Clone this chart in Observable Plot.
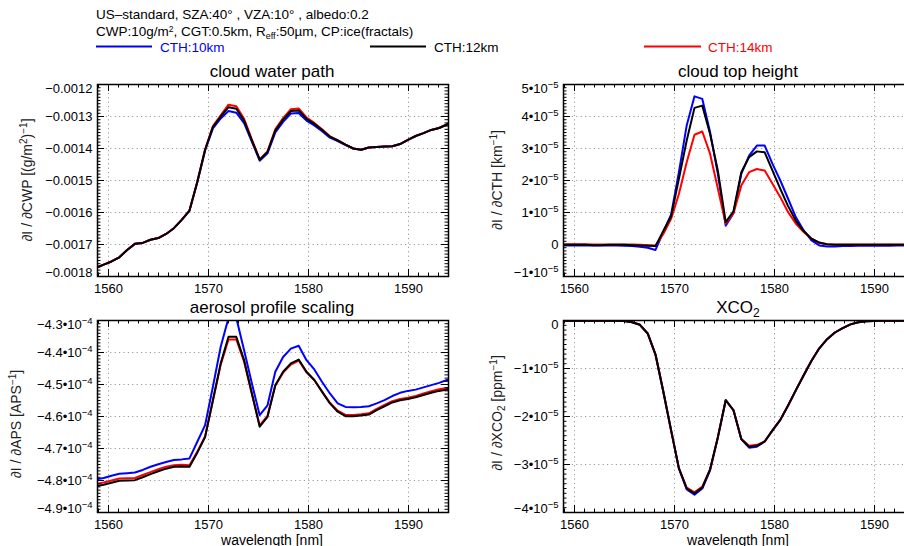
<!DOCTYPE html>
<html>
<head>
<meta charset="utf-8">
<script src="https://cdn.jsdelivr.net/npm/d3@7"></script>
<script src="https://cdn.jsdelivr.net/npm/@observablehq/plot@0.6"></script>
<style>
html,body{margin:0;padding:0;background:#fff;overflow:hidden;}
#root{position:relative;width:904px;height:546px;overflow:hidden;background:#fff;}
#root svg{position:absolute;}
</style>
</head>
<body>
<div id="root"></div>
<script>
// ---------------- data ----------------
const wavelength = [1558.74,1559.52,1560.30,1561.08,1561.86,1562.64,1563.42,1564.20,1564.98,1565.76,1566.54,1567.32,1568.10,1568.88,1569.66,1570.44,1571.22,1572.00,1572.78,1573.56,1574.34,1575.12,1575.90,1576.68,1577.46,1578.24,1579.02,1579.80,1580.58,1581.36,1582.14,1582.92,1583.70,1584.48,1585.26,1586.04,1586.82,1587.60,1588.38,1589.16,1589.94,1590.72,1591.50,1592.28,1593.06,1593.84,1594.62];

const seriesNames = ["CTH:10km", "CTH:12km", "CTH:14km"];
const seriesColors = ["#0000ff", "#000000", "#ff0000"];

// dI/dCWP in units of 1e-3 (g/m^2)^-1
const cwp10 = [-1.773,-1.763,-1.753,-1.740,-1.717,-1.698,-1.695,-1.685,-1.680,-1.667,-1.649,-1.623,-1.594,-1.505,-1.406,-1.337,-1.306,-1.283,-1.288,-1.321,-1.379,-1.438,-1.415,-1.350,-1.317,-1.291,-1.289,-1.313,-1.328,-1.346,-1.366,-1.377,-1.389,-1.400,-1.404,-1.397,-1.395,-1.394,-1.393,-1.386,-1.373,-1.361,-1.352,-1.342,-1.336,-1.325,-1.312];
const cwp12 = [-1.773,-1.763,-1.753,-1.740,-1.717,-1.698,-1.695,-1.685,-1.680,-1.667,-1.649,-1.623,-1.594,-1.505,-1.404,-1.333,-1.300,-1.271,-1.276,-1.313,-1.375,-1.435,-1.411,-1.344,-1.310,-1.283,-1.281,-1.307,-1.323,-1.342,-1.363,-1.375,-1.388,-1.400,-1.404,-1.397,-1.395,-1.394,-1.393,-1.386,-1.373,-1.361,-1.352,-1.342,-1.336,-1.325,-1.312];
const cwp14 = [-1.773,-1.763,-1.753,-1.740,-1.717,-1.698,-1.695,-1.685,-1.680,-1.667,-1.649,-1.623,-1.594,-1.505,-1.403,-1.330,-1.296,-1.263,-1.268,-1.307,-1.372,-1.434,-1.409,-1.340,-1.305,-1.277,-1.275,-1.303,-1.320,-1.340,-1.362,-1.374,-1.388,-1.400,-1.404,-1.397,-1.395,-1.394,-1.393,-1.386,-1.373,-1.361,-1.352,-1.342,-1.336,-1.325,-1.312];

// dI/dCTH in units of 1e-5 km^-1
const cth10 = [-0.03,-0.03,-0.03,-0.03,-0.03,-0.03,-0.03,-0.03,-0.04,-0.05,-0.07,-0.10,-0.17,0.39,0.93,2.26,3.72,4.63,4.55,3.51,2.20,0.59,0.98,2.21,2.78,3.09,3.09,2.52,2.00,1.43,0.85,0.44,0.13,-0.03,-0.06,-0.06,-0.05,-0.05,-0.04,-0.04,-0.04,-0.04,-0.04,-0.03,-0.03,-0.03,-0.03];
const cth12 = [-0.01,-0.01,-0.01,-0.01,-0.02,-0.02,-0.01,-0.01,-0.01,-0.02,-0.03,-0.04,-0.05,0.42,0.88,2.05,3.25,4.27,4.34,3.45,2.30,0.70,1.04,2.26,2.73,2.91,2.88,2.31,1.74,1.20,0.74,0.42,0.18,0.06,0.01,-0.01,-0.01,-0.01,-0.01,-0.01,-0.01,-0.01,-0.01,-0.01,-0.01,-0.01,-0.01];
const cth14 = [0.01,0.01,0.01,0.01,0.00,0.00,0.00,0.00,0.00,0.00,-0.01,-0.02,-0.03,0.33,0.80,1.58,2.57,3.43,3.53,2.83,1.74,0.65,0.98,1.84,2.26,2.36,2.31,1.90,1.48,1.01,0.65,0.39,0.18,0.05,0.01,0,0,0,0,0,0,0,0,0,0,0,0];

// dI/dAPS in units of 1e-4 APS^-1
const aps10 = [-4.797,-4.792,-4.785,-4.779,-4.777,-4.775,-4.767,-4.757,-4.749,-4.742,-4.736,-4.734,-4.731,-4.679,-4.627,-4.507,-4.382,-4.292,-4.292,-4.393,-4.497,-4.596,-4.565,-4.460,-4.414,-4.388,-4.379,-4.424,-4.453,-4.492,-4.528,-4.559,-4.570,-4.571,-4.570,-4.568,-4.559,-4.549,-4.536,-4.526,-4.520,-4.516,-4.509,-4.502,-4.495,-4.486,-4.484];
const aps12 = [-4.818,-4.813,-4.807,-4.801,-4.800,-4.799,-4.790,-4.780,-4.771,-4.763,-4.757,-4.756,-4.757,-4.713,-4.664,-4.549,-4.434,-4.351,-4.351,-4.424,-4.528,-4.632,-4.601,-4.502,-4.460,-4.434,-4.422,-4.460,-4.486,-4.523,-4.559,-4.585,-4.599,-4.599,-4.597,-4.594,-4.580,-4.568,-4.556,-4.549,-4.545,-4.540,-4.533,-4.526,-4.520,-4.516,-4.514];
const aps14 = [-4.811,-4.806,-4.800,-4.794,-4.793,-4.792,-4.783,-4.774,-4.765,-4.757,-4.752,-4.751,-4.752,-4.710,-4.662,-4.551,-4.438,-4.359,-4.359,-4.429,-4.530,-4.628,-4.598,-4.504,-4.463,-4.438,-4.425,-4.462,-4.486,-4.522,-4.557,-4.582,-4.595,-4.595,-4.593,-4.590,-4.576,-4.564,-4.552,-4.545,-4.541,-4.536,-4.528,-4.521,-4.515,-4.511,-4.509];

// dI/dXCO2 in units of 1e-5 ppm^-1
const xco10 = [-0.005,-0.005,-0.005,-0.005,-0.005,-0.005,-0.006,-0.007,-0.012,-0.035,-0.09,-0.27,-0.71,-1.48,-2.29,-3.08,-3.52,-3.63,-3.50,-3.12,-2.43,-1.66,-1.87,-2.47,-2.65,-2.63,-2.52,-2.29,-2.07,-1.77,-1.45,-1.14,-0.84,-0.58,-0.39,-0.25,-0.16,-0.08,-0.035,-0.015,-0.008,-0.006,-0.005,-0.004,-0.004,-0.003,-0.003];
const xco12 = [-0.005,-0.005,-0.005,-0.005,-0.005,-0.005,-0.006,-0.007,-0.012,-0.035,-0.09,-0.27,-0.71,-1.48,-2.29,-3.08,-3.50,-3.60,-3.48,-3.10,-2.43,-1.66,-1.87,-2.47,-2.63,-2.61,-2.52,-2.29,-2.07,-1.77,-1.45,-1.14,-0.84,-0.58,-0.39,-0.25,-0.16,-0.08,-0.035,-0.015,-0.008,-0.006,-0.005,-0.004,-0.004,-0.003,-0.003];
const xco14 = [-0.005,-0.005,-0.005,-0.005,-0.005,-0.005,-0.006,-0.007,-0.012,-0.035,-0.09,-0.27,-0.71,-1.48,-2.29,-3.08,-3.48,-3.58,-3.46,-3.10,-2.43,-1.66,-1.87,-2.47,-2.61,-2.59,-2.52,-2.29,-2.07,-1.77,-1.45,-1.14,-0.84,-0.58,-0.39,-0.25,-0.16,-0.08,-0.035,-0.015,-0.008,-0.006,-0.005,-0.004,-0.004,-0.003,-0.003];

// ticks
const xDomain = [1558.9, 1594.0];
const xTicks = [1560, 1570, 1580, 1590];
const cwpTicks = [-1.8, -1.7, -1.6, -1.5, -1.4, -1.3, -1.2];   // x1e-3
const cthTicks = [-1, 0, 1, 2, 3, 4, 5];                        // x1e-5
const apsTicks = [-4.9, -4.8, -4.7, -4.6, -4.5, -4.4, -4.3];   // x1e-4
const xcoTicks = [-4, -3, -2, -1, 0];                           // x1e-5

// ---------------- drawing ----------------
const FONT = '"Liberation Sans", Arial, Helvetica, sans-serif';
const root = document.getElementById("root");
const xMinor = d3.range(1559, 1595, 1);

function powFmt(unit, exp, digits) {
  return v => {
    const u = v / unit;
    if (Math.abs(u) < 1e-9) return "0";
    return (u < 0 ? "\u2212" : "") + Math.abs(u).toFixed(digits) + "\u202210^\u2212" + exp;
  };
}

function superscripts(svg) {
  svg.querySelectorAll("text").forEach(t => {
    const s = t.textContent;
    const i = s.indexOf("^");
    if (i < 0) return;
    while (t.firstChild) t.removeChild(t.firstChild);
    t.appendChild(document.createTextNode(s.slice(0, i)));
    const sup = document.createElementNS("http://www.w3.org/2000/svg", "tspan");
    sup.setAttribute("dy", "-5");
    sup.setAttribute("font-size", "9.5");
    sup.textContent = s.slice(i + 1);
    t.appendChild(sup);
  });
}

function makePanel(cfg) {
  const W = 351, H = 192, ML = 85, MR = 3, MT = 3, MB = 30;
  const {boxLeft, boxTop, unit, ticksU, minorStepU, values, fmt} = cfg;
  const yTicks = ticksU.map(v => v * unit);
  const lo = ticksU[0], hi = ticksU[ticksU.length - 1];
  const nMinor = Math.round((hi - lo) / minorStepU);
  const yMinor = d3.range(nMinor + 1).map(i => (lo + i * minorStepU) * unit);
  const order = [0, 2, 1]; // blue, red, black on top
  const lines = order.map(j => Plot.line(
    wavelength.map((w, i) => ({w, v: values[j][i] * unit, s: seriesNames[j]})),
    {x: "w", y: "v", stroke: seriesColors[j], strokeWidth: 2, clip: true}
  ));
  const axisOpts = {tickSize: 0, tickPadding: 5, tickFormat: fmt, label: null, fontSize: 13};
  const svg = Plot.plot({
    width: ML + W + MR, height: MT + H + MB,
    marginLeft: ML, marginRight: MR, marginTop: MT, marginBottom: MB,
    style: {fontFamily: FONT, fontSize: "13px", background: "transparent", color: "black", overflow: "visible"},
    x: {domain: xDomain},
    y: {domain: [lo * unit, hi * unit]},
    marks: [
      Plot.gridX({ticks: xTicks, stroke: "#9a9a9a", strokeOpacity: 1, strokeDasharray: "1.2,3.2"}),
      Plot.gridY({ticks: yTicks, stroke: "#9a9a9a", strokeOpacity: 1, strokeDasharray: "1.2,3.2"}),
      ...lines,
      Plot.frame({stroke: "black", strokeWidth: 1.5}),
      Plot.tickX(xMinor, {x: d => d, insetTop: H - 3.5, stroke: "black"}),
      Plot.tickX(xMinor, {x: d => d, insetBottom: H - 3.5, stroke: "black"}),
      Plot.tickX(xTicks, {x: d => d, insetTop: H - 7, stroke: "black"}),
      Plot.tickX(xTicks, {x: d => d, insetBottom: H - 7, stroke: "black"}),
      Plot.tickY(yMinor, {y: d => d, insetRight: W - 3.5, stroke: "black"}),
      Plot.tickY(yMinor, {y: d => d, insetLeft: W - 3.5, stroke: "black"}),
      Plot.tickY(yTicks, {y: d => d, insetRight: W - 7, stroke: "black"}),
      Plot.tickY(yTicks, {y: d => d, insetLeft: W - 7, stroke: "black"}),
      Plot.axisX({ticks: xTicks, tickSize: 0, tickPadding: 7, tickFormat: d => String(d), label: null, fontSize: 13}),
      Plot.axisY({...axisOpts, ticks: yTicks.slice(1, -1)}),
      Plot.axisY({...axisOpts, ticks: [yTicks[yTicks.length - 1]], dy: 4}),
      Plot.axisY({...axisOpts, ticks: [yTicks[0]], dy: -4})
    ]
  });
  superscripts(svg);
  svg.style.left = (boxLeft - ML) + "px";
  svg.style.top = (boxTop - MT) + "px";
  root.appendChild(svg);
}

makePanel({boxLeft: 97, boxTop: 84, unit: 1e-3, ticksU: cwpTicks, minorStepU: 0.01,
  values: [cwp10, cwp12, cwp14], fmt: v => "\u2212" + Math.abs(v).toFixed(4)});
makePanel({boxLeft: 563, boxTop: 84, unit: 1e-5, ticksU: cthTicks, minorStepU: 0.1,
  values: [cth10, cth12, cth14], fmt: powFmt(1e-5, 5, 0)});
makePanel({boxLeft: 97, boxTop: 320, unit: 1e-4, ticksU: apsTicks, minorStepU: 0.01,
  values: [aps10, aps12, aps14], fmt: powFmt(1e-4, 4, 1)});
makePanel({boxLeft: 563, boxTop: 320, unit: 1e-5, ticksU: xcoTicks, minorStepU: 0.1,
  values: [xco10, xco12, xco14], fmt: powFmt(1e-5, 5, 0)});

// ---------------- overlay texts ----------------
const sup = t => `<tspan dy="-5" font-size="10">${t}</tspan>`;
const ov = document.createElementNS("http://www.w3.org/2000/svg", "svg");
ov.setAttribute("width", 904); ov.setAttribute("height", 546);
ov.style.left = "0px"; ov.style.top = "0px";
ov.setAttribute("font-family", FONT);
ov.innerHTML = `
<g font-size="13.5" fill="black">
  <text x="96" y="19">US\u2013standard, SZA:40\u00b0 , VZA:10\u00b0 , albedo:0.2</text>
  <text x="96" y="35.5">CWP:10g/m<tspan dy="-4" font-size="8.5">2</tspan><tspan dy="4">, CGT:0.5km, R</tspan><tspan dy="3" font-size="9">eff</tspan><tspan dy="-3">:50\u00b5m, CP:ice(fractals)</tspan></text>
</g>
<g font-size="13.5">
  <line x1="96" x2="152" y1="46.5" y2="46.5" stroke="${seriesColors[0]}" stroke-width="2"/>
  <text x="160" y="51.5" fill="${seriesColors[0]}">${seriesNames[0]}</text>
  <line x1="370" x2="426" y1="46.5" y2="46.5" stroke="${seriesColors[1]}" stroke-width="2"/>
  <text x="434" y="51.5" fill="${seriesColors[1]}">${seriesNames[1]}</text>
  <line x1="644" x2="701" y1="46.5" y2="46.5" stroke="${seriesColors[2]}" stroke-width="2"/>
  <text x="708" y="51.5" fill="${seriesColors[2]}">${seriesNames[2]}</text>
</g>
<g font-size="17" text-anchor="middle" fill="black">
  <text x="272" y="77">cloud water path</text>
  <text x="738" y="77">cloud top height</text>
  <text x="272" y="313">aerosol profile scaling</text>
  <text x="738" y="313">XCO<tspan dy="4" font-size="12">2</tspan></text>
</g>
<g font-size="14" text-anchor="middle" fill="#222">
  <text transform="translate(31.5,180) rotate(-90)">\u2202I / \u2202CWP [(g/m${sup("2")}<tspan dy="5">)</tspan>${sup("\u22121")}<tspan dy="5">]</tspan></text>
  <text transform="translate(502,180) rotate(-90)">\u2202I / \u2202CTH [km${sup("\u22121")}<tspan dy="5">]</tspan></text>
  <text transform="translate(21,424) rotate(-90)">\u2202I / \u2202APS [APS${sup("\u22121")}<tspan dy="5">]</tspan></text>
  <text transform="translate(502,413) rotate(-90)">\u2202I / \u2202XCO<tspan dy="3" font-size="10">2</tspan><tspan dy="-3"> [ppm</tspan>${sup("\u22121")}<tspan dy="5">]</tspan></text>
</g>
<g font-size="14" text-anchor="middle" fill="black">
  <text x="272" y="544.5">wavelength [nm]</text>
  <text x="738" y="544.5">wavelength [nm]</text>
</g>`;
root.appendChild(ov);
</script>
</body>
</html>
